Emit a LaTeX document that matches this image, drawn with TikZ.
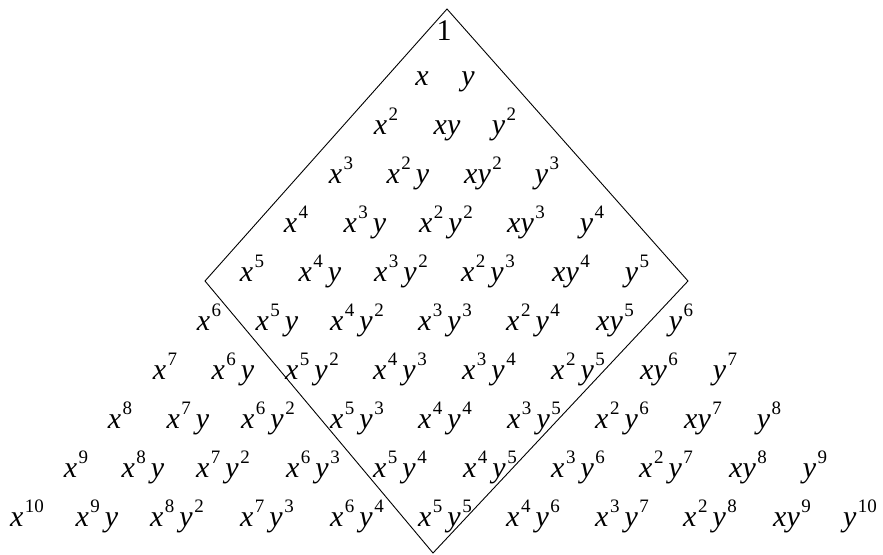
\documentclass[tikz,border=0pt]{standalone}
\usepackage{fontspec}
\setmainfont{Liberation Serif}
\newcommand\vx{\textit{x}}
\newcommand\vy{\textit{y}}
\newcommand\ex[1]{\kern1.5pt\raisebox{14pt}{\fontsize{19pt}{19pt}\selectfont #1}}
\newcommand\gp{\kern5pt}
\begin{document}
\begin{tikzpicture}[x=1pt,y=-1pt,
  term/.style={anchor=base,inner sep=0pt,font=\fontsize{30pt}{32pt}\selectfont},
  frame/.style={draw=black,line width=0.9pt}]
\useasboundingbox (0,0) rectangle (883,554);
% frame
\coordinate (top) at (447,9);
\coordinate (right) at (688,281);
\coordinate (bottom) at (433,553);
\coordinate (left) at (205,281);
\draw[frame] (top) -- (right) -- (bottom) -- (left) -- cycle;
% row 0
\node[term] (t0-0) at (444,40) {1};
% row 1
\node[term] (t1-0) at (422,85) {\vx};
\node[term] (t1-1) at (468,85) {\vy};
% row 2
\node[term] (t2-0) at (386,134) {\vx\ex{2}};
\node[term] (t2-1) at (447,134) {\vx\vy};
\node[term] (t2-2) at (504,134) {\vy\ex{2}};
% row 3
\node[term] (t3-0) at (341,183) {\vx\ex{3}};
\node[term] (t3-1) at (408,183) {\vx\ex{2}\gp\vy};
\node[term] (t3-2) at (483,183) {\vx\vy\ex{2}};
\node[term] (t3-3) at (547,183) {\vy\ex{3}};
% row 4
\node[term] (t4-0) at (296,232) {\vx\ex{4}};
\node[term] (t4-1) at (365,232) {\vx\ex{3}\gp\vy};
\node[term] (t4-2) at (446,232) {\vx\ex{2}\gp\vy\ex{2}};
\node[term] (t4-3) at (526,232) {\vx\vy\ex{3}};
\node[term] (t4-4) at (592,232) {\vy\ex{4}};
% row 5
\node[term] (t5-0) at (252,281) {\vx\ex{5}};
\node[term] (t5-1) at (320,281) {\vx\ex{4}\gp\vy};
\node[term] (t5-2) at (401,281) {\vx\ex{3}\gp\vy\ex{2}};
\node[term] (t5-3) at (488,281) {\vx\ex{2}\gp\vy\ex{3}};
\node[term] (t5-4) at (571,281) {\vx\vy\ex{4}};
\node[term] (t5-5) at (637,281) {\vy\ex{5}};
% row 6
\node[term] (t6-0) at (209,330) {\vx\ex{6}};
\node[term] (t6-1) at (277,330) {\vx\ex{5}\gp\vy};
\node[term] (t6-2) at (357,330) {\vx\ex{4}\gp\vy\ex{2}};
\node[term] (t6-3) at (445,330) {\vx\ex{3}\gp\vy\ex{3}};
\node[term] (t6-4) at (533,330) {\vx\ex{2}\gp\vy\ex{4}};
\node[term] (t6-5) at (615,330) {\vx\vy\ex{5}};
\node[term] (t6-6) at (681,330) {\vy\ex{6}};
% row 7
\node[term] (t7-0) at (165,379) {\vx\ex{7}};
\node[term] (t7-1) at (233,379) {\vx\ex{6}\gp\vy};
\node[term] (t7-2) at (312,379) {\vx\ex{5}\gp\vy\ex{2}};
\node[term] (t7-3) at (400,379) {\vx\ex{4}\gp\vy\ex{3}};
\node[term] (t7-4) at (489,379) {\vx\ex{3}\gp\vy\ex{4}};
\node[term] (t7-5) at (578,379) {\vx\ex{2}\gp\vy\ex{5}};
\node[term] (t7-6) at (659,379) {\vx\vy\ex{6}};
\node[term] (t7-7) at (725,379) {\vy\ex{7}};
% row 8
\node[term] (t8-0) at (120,428) {\vx\ex{8}};
\node[term] (t8-1) at (188,428) {\vx\ex{7}\gp\vy};
\node[term] (t8-2) at (268,428) {\vx\ex{6}\gp\vy\ex{2}};
\node[term] (t8-3) at (357,428) {\vx\ex{5}\gp\vy\ex{3}};
\node[term] (t8-4) at (445,428) {\vx\ex{4}\gp\vy\ex{4}};
\node[term] (t8-5) at (534,428) {\vx\ex{3}\gp\vy\ex{5}};
\node[term] (t8-6) at (622,428) {\vx\ex{2}\gp\vy\ex{6}};
\node[term] (t8-7) at (703,428) {\vx\vy\ex{7}};
\node[term] (t8-8) at (769,428) {\vy\ex{8}};
% row 9
\node[term] (t9-0) at (76,477) {\vx\ex{9}};
\node[term] (t9-1) at (143,477) {\vx\ex{8}\gp\vy};
\node[term] (t9-2) at (223,477) {\vx\ex{7}\gp\vy\ex{2}};
\node[term] (t9-3) at (313,477) {\vx\ex{6}\gp\vy\ex{3}};
\node[term] (t9-4) at (400,477) {\vx\ex{5}\gp\vy\ex{4}};
\node[term] (t9-5) at (490,477) {\vx\ex{4}\gp\vy\ex{5}};
\node[term] (t9-6) at (578,477) {\vx\ex{3}\gp\vy\ex{6}};
\node[term] (t9-7) at (666,477) {\vx\ex{2}\gp\vy\ex{7}};
\node[term] (t9-8) at (748,477) {\vx\vy\ex{8}};
\node[term] (t9-9) at (815,477) {\vy\ex{9}};
% row 10
\node[term] (t10-0) at (27,526) {\vx\ex{10}};
\node[term] (t10-1) at (97,526) {\vx\ex{9}\gp\vy};
\node[term] (t10-2) at (177,526) {\vx\ex{8}\gp\vy\ex{2}};
\node[term] (t10-3) at (267,526) {\vx\ex{7}\gp\vy\ex{3}};
\node[term] (t10-4) at (357,526) {\vx\ex{6}\gp\vy\ex{4}};
\node[term] (t10-5) at (445,526) {\vx\ex{5}\gp\vy\ex{5}};
\node[term] (t10-6) at (533,526) {\vx\ex{4}\gp\vy\ex{6}};
\node[term] (t10-7) at (622,526) {\vx\ex{3}\gp\vy\ex{7}};
\node[term] (t10-8) at (710,526) {\vx\ex{2}\gp\vy\ex{8}};
\node[term] (t10-9) at (792,526) {\vx\vy\ex{9}};
\node[term] (t10-10) at (860,526) {\vy\ex{10}};
\end{tikzpicture}
\end{document}
